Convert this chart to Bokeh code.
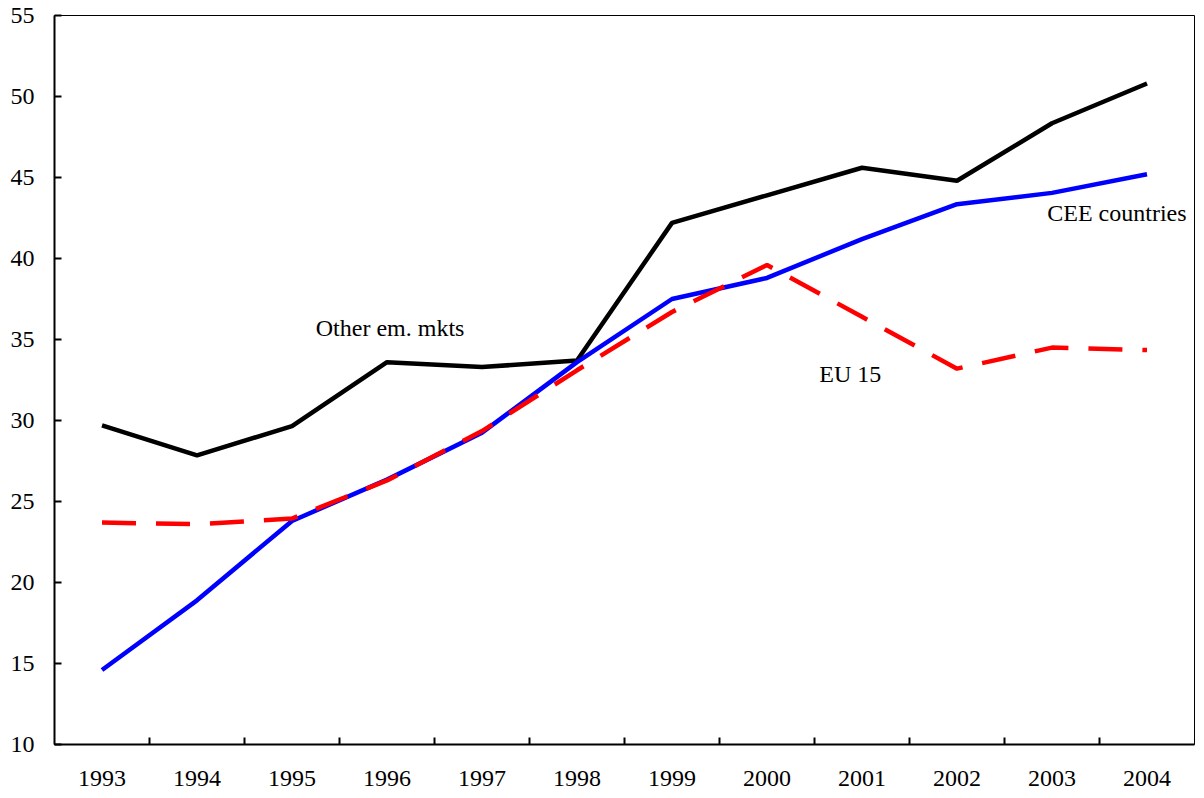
from bokeh.plotting import figure
from bokeh.models import FixedTicker, Label, Range1d
from bokeh.embed import file_html
from bokeh.resources import INLINE

years = [1993, 1994, 1995, 1996, 1997, 1998, 1999, 2000, 2001, 2002, 2003, 2004]
other_em = [29.7, 27.85, 29.65, 33.6, 33.3, 33.7, 42.2, 43.9, 45.6, 44.8, 48.35, 50.8]
cee = [14.6, 18.9, 23.8, 26.35, 29.25, 33.6, 37.5, 38.8, 41.2, 43.35, 44.05, 45.2]
eu15 = [23.7, 23.6, 23.95, 26.3, 29.35, 33.1, 36.7, 39.6, 36.4, 33.2, 34.5, 34.35]
y_ticks = [10, 15, 20, 25, 30, 35, 40, 45, 50, 55]

FONT = "Liberation Serif"
FS = "24px"

p = figure(frame_width=1140, frame_height=729, output_backend="svg",
           toolbar_location=None, x_range=Range1d(1992.5, 2004.5),
           y_range=Range1d(10, 55), min_border_left=54, min_border_top=15,
           min_border_right=10, min_border_bottom=54)
p.grid.visible = False
p.outline_line_color = "black"
p.outline_line_width = 1
p.background_fill_color = "white"
p.border_fill_color = "white"

xb = [y + 0.5 for y in years[:-1]]
p.xaxis.ticker = FixedTicker(ticks=years, minor_ticks=xb)
p.xaxis.major_tick_line_color = None
p.xaxis.minor_tick_in = 7
p.xaxis.minor_tick_out = 0
p.xaxis.minor_tick_line_width = 2
p.xaxis.minor_tick_line_color = "black"
p.xaxis.axis_line_width = 2
p.xaxis.major_label_standoff = 20
p.xaxis.major_label_text_font = FONT
p.xaxis.major_label_text_font_size = FS
p.xaxis.major_label_text_color = "black"

p.yaxis.ticker = FixedTicker(ticks=y_ticks, minor_ticks=[])
p.yaxis.major_tick_in = 7
p.yaxis.major_tick_out = 0
p.yaxis.major_tick_line_width = 2
p.yaxis.minor_tick_line_color = None
p.yaxis.axis_line_width = 2
p.yaxis.major_label_standoff = 20
p.yaxis.major_label_text_font = FONT
p.yaxis.major_label_text_font_size = FS
p.yaxis.major_label_text_color = "black"

p.line(years, other_em, line_color="black", line_width=4.5)
p.line(years, cee, line_color="#0000ff", line_width=4.5)
p.line(years, eu15, line_color="#ff0000", line_width=4.5, line_dash="34 20")

for txt, x, y in [("Other em. mkts", 1995.25, 35.68), ("EU 15", 2000.55, 32.9),
                  ("CEE countries", 2002.95, 42.78)]:
    p.add_layout(Label(x=x, y=y, text=txt, text_font=FONT, text_font_size=FS,
                       text_baseline="middle", text_align="left", text_color="black"))

open("out.html", "w").write(file_html(p, INLINE))
